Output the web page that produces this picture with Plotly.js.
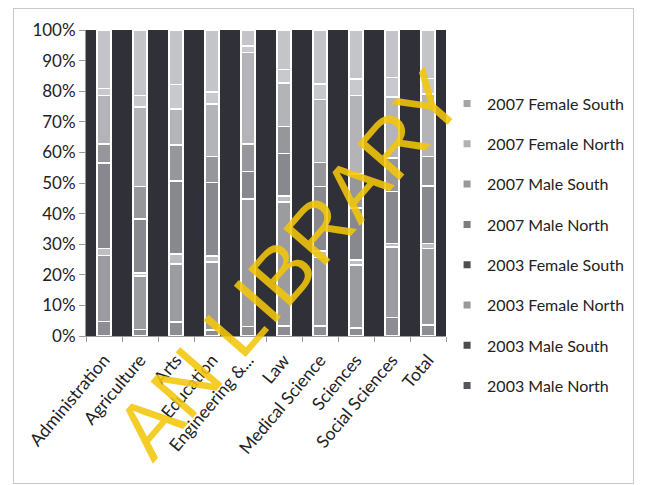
<!DOCTYPE html>
<html>
<head>
<meta charset="utf-8">
<script src="https://cdn.plot.ly/plotly-3.0.1.min.js"></script>
<style>
  body { margin: 0; background: #ffffff; }
  #chart { width: 645px; height: 485px; }
  #frame { position: absolute; left: 13px; top: 8px; width: 619px; height: 474px; border: 1px solid #c9c9c9; pointer-events: none; }
</style>
</head>
<body>
<div id="chart"></div>
<div id="frame"></div>
<script>
// Categories (x axis)
const categories = ["Administration", "Agriculture", "Arts", "Education", "Engineering &...",
                    "Law", "Medical Science", "Sciences", "Social Sciences", "Total"];

// Series values (percent share of each bar)
const male2003North   = [4.7, 2.1, 4.6, 2.0, 3.1, 3.3, 3.2, 2.6, 6.0, 3.6];
const male2003South   = [21.6, 17.5, 18.9, 22.2, 41.6, 40.5, 22.4, 20.6, 23.1, 25.0];
const female2003North = [2.3, 1.0, 3.3, 1.9, 0.3, 2.0, 2.2, 1.6, 1.2, 1.6];
const female2003South = [27.9, 17.6, 23.9, 24.1, 8.7, 13.9, 21.1, 17.0, 16.9, 18.8];
const male2007North   = [6.2, 10.6, 11.7, 8.4, 9.1, 8.7, 7.8, 11.1, 11.0, 9.6];
const male2007South   = [15.9, 26.0, 11.8, 17.2, 29.8, 14.3, 20.6, 25.7, 19.9, 20.5];
const female2007North = [2.3, 3.8, 8.0, 4.0, 2.1, 4.4, 5.1, 5.4, 6.4, 5.1];
const female2007South = [19.1, 21.4, 17.8, 20.2, 5.3, 12.9, 17.6, 16.0, 15.5, 15.8];

// Series names (stack order bottom -> top)
const seriesNames = ["2003 Male North", "2003 Male South", "2003 Female North", "2003 Female South",
                     "2007 Male North", "2007 Male South", "2007 Female North", "2007 Female South"];
const seriesValues = [male2003North, male2003South, female2003North, female2003South,
                      male2007North, male2007South, female2007North, female2007South];

// Y tick labels
const yTickVals = [0, 10, 20, 30, 40, 50, 60, 70, 80, 90, 100];
const yTickText = ["0%", "10%", "20%", "30%", "40%", "50%", "60%", "70%", "80%", "90%", "100%"];

// Styles
const barColors = ["#8d8d93", "#9b9ba0", "#bdbdc2", "#88888e", "#96969b", "#b3b3b8", "#c9c9cd", "#c4c4c9"];
const legendColors = ["#56565c", "#4a4a50", "#97979c", "#4e4e55", "#7c7c82", "#98989e", "#b0b0b5", "#a4a4aa"];
const fontFamily = "Lato, 'Open Sans', sans-serif";

const traces = [];
seriesNames.forEach((name, i) => {
  traces.push({
    type: "bar",
    x: categories,
    y: seriesValues[i],
    name: name,
    width: 0.38,
    marker: { color: barColors[i], line: { color: "#ffffff", width: 1.5 } },
    showlegend: false,
    hoverinfo: "skip"
  });
});
// legend entries (top -> bottom as in the picture)
for (let i = seriesNames.length - 1; i >= 0; i--) {
  traces.push({
    type: "scatter",
    mode: "markers",
    x: [null],
    y: [null],
    name: seriesNames[i],
    legendgroup: "g" + i,
    marker: { symbol: "square", size: 7, color: legendColors[i] },
    showlegend: true,
    hoverinfo: "skip"
  });
}

const layout = {
  width: 645,
  height: 485,
  autosize: false,
  margin: { l: 86, r: 199, t: 30, b: 149, autoexpand: false },
  paper_bgcolor: "#ffffff",
  plot_bgcolor: "#303038",
  barmode: "stack",
  barnorm: "percent",
  font: { family: fontFamily, size: 16, color: "#222222" },
  xaxis: {
    type: "category",
    range: [-0.5, 9.5],
    tickson: "boundaries",
    ticks: "outside",
    ticklen: 5,
    tickcolor: "#9a9a9a",
    showline: true,
    linecolor: "#9a9a9a",
    linewidth: 1,
    showgrid: false,
    tickangle: -50,
    ticklabelstandoff: 6,
    tickfont: { family: fontFamily, size: 17.5, color: "#222222" },
    fixedrange: true
  },
  yaxis: {
    range: [0, 100],
    tickvals: yTickVals,
    ticktext: yTickText,
    ticks: "outside",
    ticklen: 6,
    tickcolor: "#9a9a9a",
    showline: true,
    linecolor: "#9a9a9a",
    showgrid: false,
    zeroline: false,
    tickfont: { family: fontFamily, size: 17, color: "#222222" },
    fixedrange: true
  },
  legend: {
    x: 1.003,
    xanchor: "left",
    y: 0.815,
    yanchor: "top",
    traceorder: "grouped",
    tracegroupgap: 16.5,
    font: { family: fontFamily, size: 16, color: "#222222" },
    bgcolor: "rgba(0,0,0,0)"
  },
  annotations: [{
    text: "AN LIBRARY",
    xref: "paper", yref: "paper",
    x: 0.565, y: 0.235,
    xanchor: "center", yanchor: "middle",
    textangle: -49,
    showarrow: false,
    font: { family: "'Liberation Sans', Arial, sans-serif", size: 81, color: "rgba(243,198,10,0.88)" }
  }]
};

Plotly.newPlot("chart", traces, layout, { staticPlot: true, displayModeBar: false });
</script>
</body>
</html>
